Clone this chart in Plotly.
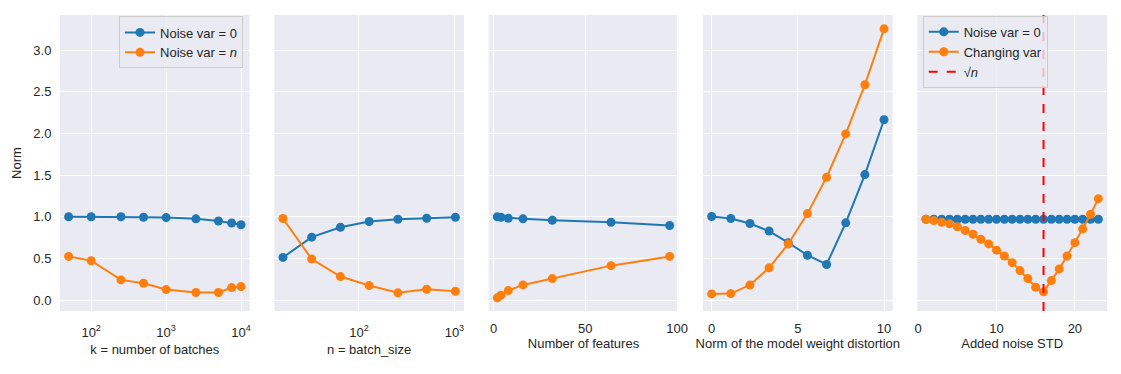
import plotly.graph_objects as go
from plotly.subplots import make_subplots

BLUE = "#1f77b4"
ORANGE = "#ff7f0e"

# panel 1: number of batches
k_batches = [50, 100, 250, 500, 1000, 2500, 5000, 7500, 10000]
k_no_noise = [1.0, 1.0, 1.0, 0.995, 0.99, 0.975, 0.95, 0.925, 0.905]
k_noise_n = [0.525, 0.473, 0.243, 0.203, 0.127, 0.092, 0.092, 0.151, 0.163]

# panel 2: batch size
n_batch = [16, 32, 64, 128, 256, 512, 1024]
n_no_noise = [0.513, 0.756, 0.875, 0.943, 0.971, 0.983, 0.995]
n_noise_n = [0.979, 0.493, 0.283, 0.175, 0.088, 0.131, 0.107]

# panel 3: number of features
features = [2, 4, 8, 16, 32, 64, 96]
f_no_noise = [0.999, 0.995, 0.983, 0.975, 0.959, 0.935, 0.895]
f_noise_n = [0.028, 0.06, 0.115, 0.183, 0.259, 0.414, 0.525]

# panel 4: weight distortion
distortion = [0.0, 1.111, 2.222, 3.333, 4.444, 5.556, 6.667, 7.778, 8.889, 10.0]
d_no_noise = [1.003, 0.979, 0.92, 0.828, 0.69, 0.539, 0.428, 0.927, 1.506, 2.164]
d_noise_n = [0.075, 0.079, 0.182, 0.388, 0.674, 1.038, 1.474, 1.994, 2.584, 3.254]

# panel 5: added noise std
noise_std = list(range(1, 24))
s_no_noise = [0.97] * 23
s_changing = [0.97, 0.955, 0.935, 0.915, 0.88, 0.835, 0.79, 0.73, 0.675, 0.60,
              0.53, 0.45, 0.355, 0.26, 0.155, 0.10, 0.235, 0.375, 0.53, 0.69,
              0.855, 1.03, 1.217]
sqrt_n = 16

x_titles = ["k = number of batches", "n = batch_size", "Number of features",
            "Norm of the model weight distortion", "Added noise STD"]

fig = make_subplots(rows=1, cols=5, shared_yaxes=True, horizontal_spacing=0.0236)


def add_pair(col, x, y0, y1, name0, name1, legend, show):
    fig.add_trace(go.Scatter(x=x, y=y0, mode="lines+markers", name=name0,
                             line=dict(color=BLUE, width=2), marker=dict(size=9, color=BLUE),
                             showlegend=show, legend=legend), row=1, col=col)
    fig.add_trace(go.Scatter(x=x, y=y1, mode="lines+markers", name=name1,
                             line=dict(color=ORANGE, width=2), marker=dict(size=9, color=ORANGE),
                             showlegend=show, legend=legend), row=1, col=col)


add_pair(1, k_batches, k_no_noise, k_noise_n, "Noise var = 0", "Noise var = <i>n</i>", "legend", True)
add_pair(2, n_batch, n_no_noise, n_noise_n, "", "", "legend", False)
add_pair(3, features, f_no_noise, f_noise_n, "", "", "legend", False)
add_pair(4, distortion, d_no_noise, d_noise_n, "", "", "legend", False)
add_pair(5, noise_std, s_no_noise, s_changing, "Noise var = 0", "Changing var", "legend2", True)

# sqrt(n) marker line
fig.add_shape(type="line", x0=sqrt_n, x1=sqrt_n, y0=0, y1=1, xref="x5", yref="y5 domain",
              line=dict(color="red", width=2, dash="dash"))
fig.add_trace(go.Scatter(x=[None], y=[None], mode="lines", name="√<i>n</i>",
                         line=dict(color="red", width=2, dash="dash"), legend="legend2"),
              row=1, col=5)

font = dict(family="Liberation Sans, Arial, sans-serif", size=13, color="#262626")
axis_common = dict(showgrid=True, gridcolor="white", gridwidth=1, zeroline=False,
                   showline=False, ticks="outside", ticklen=5, tickcolor="rgba(0,0,0,0)",
                   tickfont=font, title_font=font, title_standoff=4, automargin=False)

fig.update_xaxes(**axis_common)
fig.update_yaxes(**axis_common)

fig.update_yaxes(range=[-0.13, 3.42], tickvals=[0, 0.5, 1, 1.5, 2, 2.5, 3], tickformat=".1f")
fig.update_yaxes(title_text="Norm", title_standoff=8, row=1, col=1)

fig.update_xaxes(type="log", range=[1.584, 4.115], tickvals=[100, 1000, 10000],
                 ticktext=["10<sup>2</sup>", "10<sup>3</sup>", "10<sup>4</sup>"],
                 ticklen=9, title_standoff=6, row=1, col=1)
fig.update_xaxes(type="log", range=[1.114, 3.1], tickvals=[100, 1000],
                 ticktext=["10<sup>2</sup>", "10<sup>3</sup>"],
                 ticklen=9, title_standoff=6, row=1, col=2)
fig.update_xaxes(range=[-2.7, 100.7], tickvals=[0, 50, 100], row=1, col=3)
fig.update_xaxes(range=[-0.5, 10.5], tickvals=[0, 5, 10], row=1, col=4)
fig.update_xaxes(range=[-0.1, 24.1], tickvals=[0, 10, 20], row=1, col=5)
for i, t in enumerate(x_titles):
    fig.update_xaxes(title_text=t, row=1, col=i + 1)

legend_style = dict(bgcolor="rgba(234,234,242,0.8)", bordercolor="#cccccc", borderwidth=1,
                    font=font, yanchor="top", itemwidth=30)

# page body adds an 8px offset, so the figure is drawn 8px smaller
fig.update_layout(
    width=1113, height=366,
    margin=dict(l=52, r=14, t=7, b=63),
    paper_bgcolor="white", plot_bgcolor="#EAEAF2",
    font=font,
    legend=dict(x=0.1748, xanchor="right", y=0.995, **legend_style),
    legend2=dict(x=0.824, xanchor="left", y=0.997, **legend_style),
)

fig.write_html("out.html")
